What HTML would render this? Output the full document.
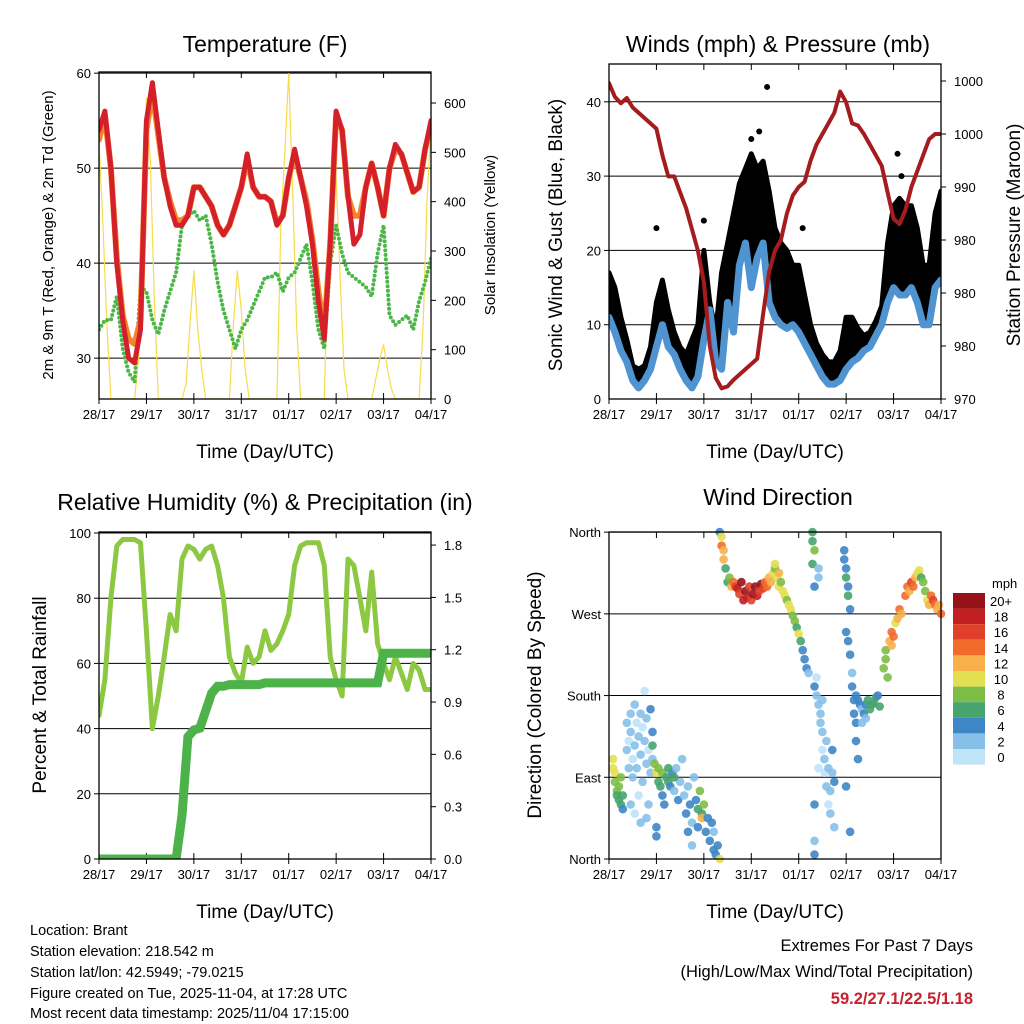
<!DOCTYPE html>
<html><head><meta charset="utf-8"><style>
body{margin:0;background:#fff}
svg{display:block;font-family:"Liberation Sans",sans-serif}
</style></head><body>
<svg id="s" width="1024" height="1024" viewBox="0 0 1024 1024" xmlns="http://www.w3.org/2000/svg">
<defs>
<clipPath id="c1"><rect x="99" y="72" width="332" height="327"/></clipPath>
<clipPath id="c2"><rect x="609" y="64" width="332" height="335"/></clipPath>
<clipPath id="c3"><rect x="99" y="532" width="332" height="327"/></clipPath>
</defs>
<rect width="1024" height="1024" fill="#fff"/>
<text x="265" y="52" font-size="23" text-anchor="middle">Temperature (F)</text>
<text x="778" y="52" font-size="23" text-anchor="middle">Winds (mph) &amp; Pressure (mb)</text>
<text x="265" y="510" font-size="23" text-anchor="middle">Relative Humidity (%) &amp; Precipitation (in)</text>
<text x="778" y="505" font-size="23" text-anchor="middle">Wind Direction</text>
<text x="265" y="458" font-size="19" text-anchor="middle">Time (Day/UTC)</text>
<text x="775" y="458" font-size="19" text-anchor="middle">Time (Day/UTC)</text>
<text x="265" y="918" font-size="19" text-anchor="middle">Time (Day/UTC)</text>
<text x="775" y="918" font-size="19" text-anchor="middle">Time (Day/UTC)</text>
<text transform="translate(53,235) rotate(-90)" font-size="15" text-anchor="middle">2m &amp; 9m T (Red, Orange) &amp; 2m Td (Green)</text>
<text transform="translate(495,235) rotate(-90)" font-size="15" text-anchor="middle">Solar Insolation (Yellow)</text>
<text transform="translate(562,235) rotate(-90)" font-size="19" text-anchor="middle">Sonic Wind &amp; Gust (Blue, Black)</text>
<text transform="translate(1020,235) rotate(-90)" font-size="19" text-anchor="middle">Station Pressure (Maroon)</text>
<text transform="translate(46,695) rotate(-90)" font-size="19" text-anchor="middle">Percent &amp; Total Rainfall</text>
<text transform="translate(541,695) rotate(-90)" font-size="19" text-anchor="middle">Direction (Colored By Speed)</text>
<g font-size="14.5">
<text x="30" y="935">Location: Brant</text>
<text x="30" y="956">Station elevation: 218.542 m</text>
<text x="30" y="977">Station lat/lon: 42.5949; -79.0215</text>
<text x="30" y="998">Figure created on Tue, 2025-11-04, at 17:28 UTC</text>
<text x="30" y="1018">Most recent data timestamp: 2025/11/04 17:15:00</text>
</g>
<text x="973" y="951" font-size="16.5" text-anchor="end">Extremes For Past 7 Days</text>
<text x="973" y="977" font-size="16.5" text-anchor="end">(High/Low/Max Wind/Total Precipitation)</text>
<text x="973" y="1004" font-size="16.5" font-weight="bold" fill="#c8202f" text-anchor="end">59.2/27.1/22.5/1.18</text>
</svg>
<script>
// ---- data (3-hour samples, h = 0..168) ----
const dayLabels=['28/17','29/17','30/17','31/17','01/17','02/17','03/17','04/17'];
const temp2m=[54,56,50,40,34,30,29.5,33,55,59,54,49,46,44,44,45,48,48,47,46,44,43,44,46,48,51.5,48,47,47,46.5,44,45,49,52,49,46,42,36,32,42,56,54,47,42,43,48,50.5,48,45,50,52.5,51.5,49.5,47.5,48,52,55];
const temp9m=[53,55.5,50,40.5,34.5,32,31.5,34,54,58,53.5,49,46.5,44.5,44.5,45,48,48,47,46,44,43,44,46,48,51,48,47,47,46.5,44.2,45,49,51.5,49,46.5,42.5,37,33,42,55.5,54,47,45,45,48,50.5,48,45,50,52,51.5,49.5,47.5,48,52,54.5];
const dewpt=[33,34,34,36.5,31,28.5,27.5,37.5,37,34,32.5,35,37,39,44,45,45.5,44.5,45,42,38,35,33,31,33,34,35.5,37,38.5,38.5,39,37,38.5,39,40.5,42,38,33,31,40,44,41,39,38.5,38,37.5,36.5,41,44,34.5,33.5,34,34.5,33,36,38,40.5];
const insolHours=[0,2,4,6,18,20,22,24,26,28,30,42,44,46,48,50,52,54,66,68,70,72,74,76,78,90,92,94,96,98,100,102,114,116,118,120,122,124,126,138,140,142,144,146,148,150,162,164,166,168];
const insolVals=[520,350,150,0,0,80,300,610,480,200,0,0,30,150,260,140,60,0,0,150,260,180,60,0,0,0,350,500,660,420,150,0,0,300,520,450,250,60,0,0,40,80,110,60,20,0,0,150,400,560];
const pressure=[999.8,998.5,997.9,998.4,997.5,997,996.5,996,995.5,993,991,991,989.5,988,986,984,981,975,972,971,971.2,971.8,972.3,972.8,973.3,973.8,978,982,984,985,987.5,989.2,990,990.5,992.5,994,995,996,997,999,998,996,995.8,995,994,993,992,989.5,987,986.5,987.8,990,991.5,993,994.5,995,995];
const windSpd=[11,9,6.5,5,2.5,1.5,2.5,4,7,10,7,6,4,2.5,1.5,3,8,12,5,4,13,9,18,21,15,19,21,13,11,10,9.5,10,9,7.5,6,4.5,3,2,2,2.5,4,5,5.5,6.5,7,8.5,10,13,15,14,14,15,13,10,10,15,16];
const gustSpd=[17,15,11,8,4.5,4,4.5,7,13,16,12,9,7,6,8,10,20,13,9,17,21,25,29,31,33,31,32,28,23,21,20,18,18,14,10,7.5,6,5,5,6.5,11,11,9.5,8.5,9,10.5,12.5,21,26,27,26,26,23,18,18,25,28];
const gustOutliers=[[80,42],[24,23],[48,24],[98,23],[146,33],[148,30],[72,35],[76,36]];
const rainTotal=[0,0,0,0,0,0,0,0,0,0,0,0,0,0,0.25,0.7,0.74,0.75,0.85,0.95,0.99,0.99,1,1,1,1,1,1,1.01,1.01,1.01,1.01,1.01,1.01,1.01,1.01,1.01,1.01,1.01,1.01,1.01,1.01,1.01,1.01,1.01,1.01,1.01,1.01,1.18,1.18,1.18,1.18,1.18,1.18,1.18,1.18,1.18];
const relHum=[44,55,80,96,98,98,98,97,70,40,50,62,75,70,92,96,95,92,95,96,90,80,62,57,54,65,60,62,70,64,66,70,75,90,96,97,97,97,90,62,55,50,92,90,80,70,88,66,60,55,62,57,52,60,58,52,52];
const dirObs=[[2,110,11],[2,100,10],[3,95,10],[3,85,9],[4,75,8],[4,70,7],[5,65,7],[5,80,8],[6,90,9],[6,60,7],[7,55,5],[7,70,6],
[9,150,2],[9,120,3],[10,130,1],[10,100,2],[11,160,2],[11,140,3],[12,110,1],[12,90,2],[13,170,2],[13,125,3],[14,150,1],[14,100,3],[15,135,2],[15,70,1],[16,160,3],[16,115,2],[17,145,1],[17,85,2],[18,185,1],[18,130,2],[19,155,3],[19,105,2],[20,120,1],[20,60,2],[21,165,4],[21,95,3],[22,140,5],[22,110,3],[13,50,1],[16,40,2],[11,60,2],[19,45,3],
[22,125,7],[23,105,9],[24,95,11],[25,100,9],[25,85,7],[26,80,6],[27,70,5],[27,95,8],[28,60,4],[29,90,7],[30,85,6],[31,80,5],[32,95,4],[33,75,3],[34,100,2],[35,65,4],[36,85,3],[24,25,4],[24,35,4],[33,90,6],[30,100,7],
[37,110,2],[38,70,3],[39,50,4],[40,30,5],[40,80,2],[41,60,4],[42,40,3],[42,15,2],[43,90,3],[44,65,5],[45,35,4],[45,55,7],[46,75,8],[47,50,6],[47,45,12],[48,60,9],[49,30,5],[50,45,4],[51,20,5],[52,40,4],[53,10,5],[53,30,3],[54,5,4],[55,15,5],[56,0,10],
[56,360,4],[57,355,11],[57,345,14],[58,340,13],[58,330,12],[59,320,6],[60,305,7],[61,310,9],
[62,300,12],[63,305,15],[64,300,16],[65,298,18],[66,292,17],[67,305,20],[68,285,19],[69,295,21],[70,288,18],[71,300,17],[72,285,16],[73,292,20],[74,300,21],[75,290,19],[76,295,17],[77,303,20],[78,298,16],[79,305,15],[80,300,14],[81,310,13],[82,305,12],[83,315,11],
[84,320,8],[85,310,10],[86,300,10],[87,305,9],[88,295,11],[89,290,10],[90,285,9],[91,280,11],[92,275,10],[93,268,9],[94,262,8],[95,255,7],[96,248,10],[97,240,6],[98,230,4],[99,220,4],[100,210,5],[101,205,3],[84,325,10],[86,315,12],
[103,360,6],[103,350,7],[104,340,8],[103,325,6],[104,300,5],[106,320,2],[106,310,2],[105,200,1],[104,190,5],[105,180,3],[106,170,2],[107,160,2],[107,150,3],[108,140,2],[108,120,1],[109,110,2],[109,95,1],[110,130,3],[110,80,2],[111,100,2],[111,60,1],[112,75,3],[112,50,2],[113,120,4],[113,95,3],[114,85,4],[114,35,2],[106,100,1],[104,60,4],[104,20,3],[104,5,4],[108,175,2],
[119,340,5],[119,330,4],[120,320,5],[120,310,6],[121,300,5],[121,290,7],[122,275,4],[120,250,5],[121,240,5],[122,225,4],[123,205,3],[123,190,4],[124,175,5],[124,160,4],[125,150,5],[125,130,4],[126,110,5],[120,80,4],[122,30,4],
[125,180,5],[126,175,4],[127,170,5],[128,165,3],[129,160,4],[130,170,5],[131,175,6],[132,165,7],[133,170,7],[134,172,7],[135,178,6],[136,180,5],[137,168,7],[128,150,2],[130,155,3],
[139,210,9],[140,220,8],[140,230,9],[141,200,8],[142,240,13],[143,250,15],[143,235,12],[144,245,14],[145,260,11],[146,265,13],[147,275,14],[148,270,12],
[150,290,14],[151,300,15],[152,295,13],[153,305,16],[154,300,14],[155,310,12],[156,315,10],[157,318,10],[158,310,7],[159,305,8],[160,295,8],[161,285,10],[162,280,12],[163,290,15],[164,285,17],[165,280,14],[166,275,12],[167,280,13],[168,270,14]];
const speedBinLabels=['0','2','4','6','8','10','12','14','16','18','20+'];
const speedBinColors=['#bfe3f7','#86c0e8','#3f86c6','#47a46e','#7dbd45','#e3df52','#f7b04a','#f26b2b','#e0402a','#c21f22','#951318'];
const tempTicks=[30,40,50,60];
const insolTicks=[0,100,200,300,400,500,600];
const windTicks=[0,10,20,30,40];
const presTicks=[970,975,980,985,990,995,1000];
const presTickLabels=['970','980','980','980','990','1000','1000'];
const rhTicks=[0,20,40,60,80,100];
const rainTicks=[0,0.3,0.6,0.9,1.2,1.5,1.8];
const rainTickLabels=['0.0','0.3','0.6','0.9','1.2','1.5','1.8'];
const dirTicks=[0,90,180,270,360];
const dirTickLabels=['North','East','South','West','North'];

const svg=document.getElementById('s');
const NS='http://www.w3.org/2000/svg';
function el(tag,attrs,parent){const e=document.createElementNS(NS,tag);for(const k in attrs)e.setAttribute(k,attrs[k]);(parent||svg).appendChild(e);return e;}
const H=i=>i*3;
function xs(P,h){return P.x0+h/168*(P.x1-P.x0);}
const P1={x0:99,x1:431,y0:72,y1:399},P2={x0:609,x1:941,y0:64,y1:399},P3={x0:99,x1:431,y0:532,y1:859},P4={x0:609,x1:941,y0:532,y1:859};
const yT=v=>399-(v-25.7)*9.5, yI=v=>399-v*0.4933, yW=v=>399-v*7.43, yP=v=>399-(v-970)*10.6;
const yRH=v=>859-v*3.26, yR=v=>859-v*174.4, yD=v=>859-v*0.908;

function frame(P,name,leftTicks,leftLab,yl,rightTicks,rightLab,yr){
  const g=el('g',{});
  
  
  leftTicks.forEach((t,i)=>{const y=yl(t);
    const ln=el('line',{x1:P.x0,x2:P.x1,y1:y,y2:y,stroke:'#000','stroke-width':1},g);
    
    
    el('line',{x1:P.x0-5,x2:P.x0,y1:y,y2:y,stroke:'#000'},g);
    const tx=el('text',{x:P.x0-8,y:y+5,'font-size':13,'text-anchor':'end'},g);tx.textContent=leftLab[i];
    
    });
  if(rightTicks)rightTicks.forEach((t,i)=>{const y=yr(t);
    el('line',{x1:P.x1,x2:P.x1+5,y1:y,y2:y,stroke:'#000'},g);
    const tx=el('text',{x:P.x1+13,y:y+5,'font-size':13},g);tx.textContent=rightLab[i];
    
    });
  dayLabels.forEach((d,i)=>{const x=xs(P,i*24);
    el('line',{x1:x,x2:x,y1:P.y1,y2:P.y1+5,stroke:'#000'},g);
    el('line',{x1:x,x2:x,y1:P.y0,y2:P.y0+6,stroke:'#000'},g);
    el('line',{x1:x,x2:x,y1:P.y1,y2:P.y1-6,stroke:'#000'},g);
    const tx=el('text',{x:x,y:P.y1+20,'font-size':13,'text-anchor':'middle'},g);tx.textContent=d;
    
    });
  return g;
}
function border(P,name){const r=el('rect',{x:P.x0,y:P.y0,width:P.x1-P.x0,height:P.y1-P.y0,fill:'none',stroke:'#000','stroke-width':1.3});
  
  }
function line(P,hs,vals,yf,style,name,clip){
  const pts=vals.map((v,i)=>xs(P,hs(i)).toFixed(1)+','+yf(v).toFixed(1)).join(' ');
  const p=el('polyline',Object.assign({points:pts,fill:'none','stroke-linejoin':'round','stroke-linecap':'round'},style));
  if(clip)p.setAttribute('clip-path','url(#'+clip+')');
  
  
  return p;}

// Panel 1
frame(P1,'temperature',tempTicks,tempTicks.map(String),yT,insolTicks,insolTicks.map(String),yI);
line(P1,i=>insolHours[i],insolVals,yI,{stroke:'#f7dc4a','stroke-width':1.2},'insolation-line','c1');
line(P1,H,dewpt,yT,{stroke:'#4cb648','stroke-width':4,'stroke-dasharray':'0 4.5'},'dewpoint-line','c1');
line(P1,H,temp9m,yT,{stroke:'#f5832a','stroke-width':6},'temp-9m-line','c1');
line(P1,H,temp2m,yT,{stroke:'#d4202a','stroke-width':5},'temp-2m-line','c1');
border(P1,'temperature');

// Panel 2
frame(P2,'winds',windTicks.slice(1),windTicks.slice(1).map(String),yW,presTicks,presTickLabels,yP);
(function(){const t=el('text',{x:P2.x0-8,y:yW(0)+5,'font-size':13,'text-anchor':'end'});t.textContent='0';
 
 })();
(function(){
 const top=gustSpd.map((v,i)=>xs(P2,H(i)).toFixed(1)+','+yW(v).toFixed(1));
 const bot=windSpd.map((v,i)=>xs(P2,H(i)).toFixed(1)+','+yW(v).toFixed(1)).reverse();
 const p=el('polygon',{points:top.concat(bot).join(' '),fill:'#000',stroke:'#000','stroke-width':5,'stroke-linejoin':'round','clip-path':'url(#c2)'});
 
 
 gustOutliers.forEach(o=>{const c=el('circle',{cx:xs(P2,o[0]),cy:yW(o[1]),r:3,fill:'#000'});
  
  });
})();
line(P2,H,windSpd,yW,{stroke:'#4f94d0','stroke-width':7},'wind-speed-line','c2');
line(P2,H,pressure,yP,{stroke:'#a51c1f','stroke-width':4},'pressure-line','c2');
border(P2,'winds');

// Panel 3
frame(P3,'humidity',rhTicks,rhTicks.map(String),yRH,rainTicks,rainTickLabels,yR);
line(P3,H,relHum,yRH,{stroke:'#8dc843','stroke-width':5},'humidity-line','c3');
line(P3,H,rainTotal,yR,{stroke:'#4db24a','stroke-width':9,'stroke-linejoin':'miter','stroke-linecap':'butt'},'rainfall-line','c3');
border(P3,'humidity');

// Panel 4
frame(P4,'direction',dirTicks,dirTickLabels,yD,null,null,null);
dirObs.forEach(o=>{const b=Math.min(10,Math.floor(o[2]/2));
  const c=el('circle',{cx:xs(P4,o[0]).toFixed(1),cy:yD(o[1]).toFixed(1),r:4.3,fill:speedBinColors[b],'fill-opacity':0.9});
  
  });
border(P4,'direction');
// colorbar
(function(){const t=el('text',{x:992,y:588,'font-size':13});t.textContent='mph';
 
 
 for(let k=10;k>=0;k--){const y=593+(10-k)*15.6;
  const r=el('rect',{x:953,y:y,width:32,height:15.6,fill:speedBinColors[k]});
  
  
  const l=el('text',{x:1001,y:y+13,'font-size':13,'text-anchor':'middle'});l.textContent=speedBinLabels[k];
  
  }
})();
</script>
</body></html>
